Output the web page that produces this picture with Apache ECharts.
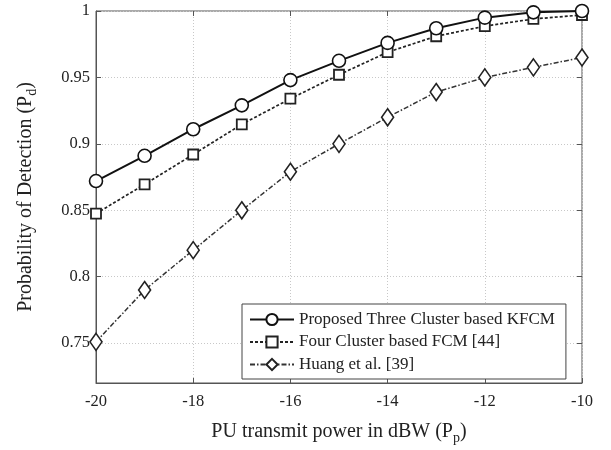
<!DOCTYPE html>
<html>
<head>
<meta charset="utf-8">
<script src="https://cdn.jsdelivr.net/npm/echarts@6/dist/echarts.min.js"></script>
<style>html,body{margin:0;padding:0;background:#fff}#c{width:611px;height:450px}</style>
</head>
<body>
<div id="c"></div>
<script>
const xValues = [-20, -19, -18, -17, -16, -15, -14, -13, -12, -11, -10];
const kfcm = [0.872, 0.891, 0.911, 0.929, 0.948, 0.9625, 0.976, 0.987, 0.995, 0.999, 1.0];
const fcm = [0.8475, 0.8695, 0.892, 0.9147, 0.934, 0.952, 0.969, 0.981, 0.9886, 0.994, 0.997];
const huang = [0.751, 0.790, 0.820, 0.850, 0.879, 0.900, 0.920, 0.939, 0.950, 0.9576, 0.965];
const seriesNames = ['Proposed Three Cluster based KFCM', 'Four Cluster based FCM [44]', 'Huang et al. [39]'];
const xTicks = [-20, -18, -16, -14, -12, -10];
const yTicks = [0.75, 0.8, 0.85, 0.9, 0.95, 1];

const FONT = 'Liberation Serif';
const chart = echarts.init(document.getElementById('c'), null, {renderer: 'canvas'});
const pair = arr => xValues.map((x, i) => [x, arr[i]]);
const gridLine = {show: true, lineStyle: {color: '#c8c8c8', type: [1, 2], width: 1}};

chart.setOption({
  animation: false,
  backgroundColor: '#fff',
  grid: {left: 96, right: 29, top: 11, bottom: 63, show: true, borderColor: '#555', borderWidth: 1},
  legend: {
    orient: 'vertical', left: 242, top: 304, width: 324,
    backgroundColor: '#fff', borderColor: '#444', borderWidth: 1,
    padding: [7, 11, 6, 7], itemGap: 5.5, itemWidth: 44, itemHeight: 14,
    textStyle: {fontFamily: FONT, fontSize: 17, color: '#222'},
    data: seriesNames
  },
  xAxis: [{
    type: 'value', min: -20, max: -10, interval: 2,
    axisLine: {show: true, lineStyle: {color: '#555'}},
    axisTick: {show: true, inside: true, length: 5, lineStyle: {color: '#555'}},
    axisLabel: {fontFamily: FONT, fontSize: 16.5, color: '#222', margin: 10, customValues: xTicks},
    splitLine: gridLine,
    name: '{a|PU transmit power in dBW (P}{s|p}{a|)}',
    nameLocation: 'middle', nameGap: 36,
    nameTextStyle: {rich: {
      a: {fontFamily: FONT, fontSize: 20, color: '#222'},
      s: {fontFamily: FONT, fontSize: 14, color: '#222', padding: [12, 0, 0, 0]}
    }}
  }, {
    type: 'value', min: -20, max: -10, interval: 2, position: 'top',
    axisLine: {show: false}, axisLabel: {show: false}, splitLine: {show: false},
    axisTick: {show: true, inside: true, length: 5, lineStyle: {color: '#555'}}
  }],
  yAxis: [{
    type: 'value', min: 0.72, max: 1, splitNumber: 5,
    axisLine: {show: true, lineStyle: {color: '#555'}},
    axisTick: {show: true, inside: true, length: 5, lineStyle: {color: '#555'}},
    axisLabel: {fontFamily: FONT, fontSize: 16.5, color: '#222', margin: 6, showMinLabel: false,
      formatter: v => (Math.abs(v - 0.72) < 1e-6 ? '' : String(+v.toFixed(2)))},
    splitLine: gridLine,
    name: '{a|Probability of Detection (P}{s|d}{a|)}',
    nameLocation: 'middle', nameGap: 57, nameRotate: 90,
    nameTextStyle: {rich: {
      a: {fontFamily: FONT, fontSize: 20, color: '#222'},
      s: {fontFamily: FONT, fontSize: 14, color: '#222', padding: [12, 0, 0, 0]}
    }}
  }, {
    type: 'value', min: 0.72, max: 1, splitNumber: 5, position: 'right',
    axisLine: {show: false}, axisLabel: {show: false}, splitLine: {show: false},
    axisTick: {show: true, inside: true, length: 5, lineStyle: {color: '#555'}}
  }],
  series: [{
    name: seriesNames[0], type: 'line', data: pair(kfcm),
    symbol: 'circle', symbolSize: 13, showAllSymbol: true,
    lineStyle: {color: '#111', width: 2, type: 'solid'},
    itemStyle: {color: '#fff', borderColor: '#111', borderWidth: 1.6},
    z: 5
  }, {
    name: seriesNames[1], type: 'line', data: pair(fcm),
    symbol: 'rect', symbolSize: 10,
    lineStyle: {color: '#222', width: 1.7, type: [3, 2]},
    itemStyle: {color: '#fff', borderColor: '#222', borderWidth: 1.8},
    z: 4
  }, {
    name: seriesNames[2], type: 'line', data: pair(huang),
    symbol: 'diamond', symbolSize: [12, 17],
    lineStyle: {color: '#333', width: 1.5, type: [5, 2, 1.5, 2]},
    itemStyle: {color: '#fff', borderColor: '#222', borderWidth: 1.6},
    z: 3
  }]
});
</script>
</body>
</html>
